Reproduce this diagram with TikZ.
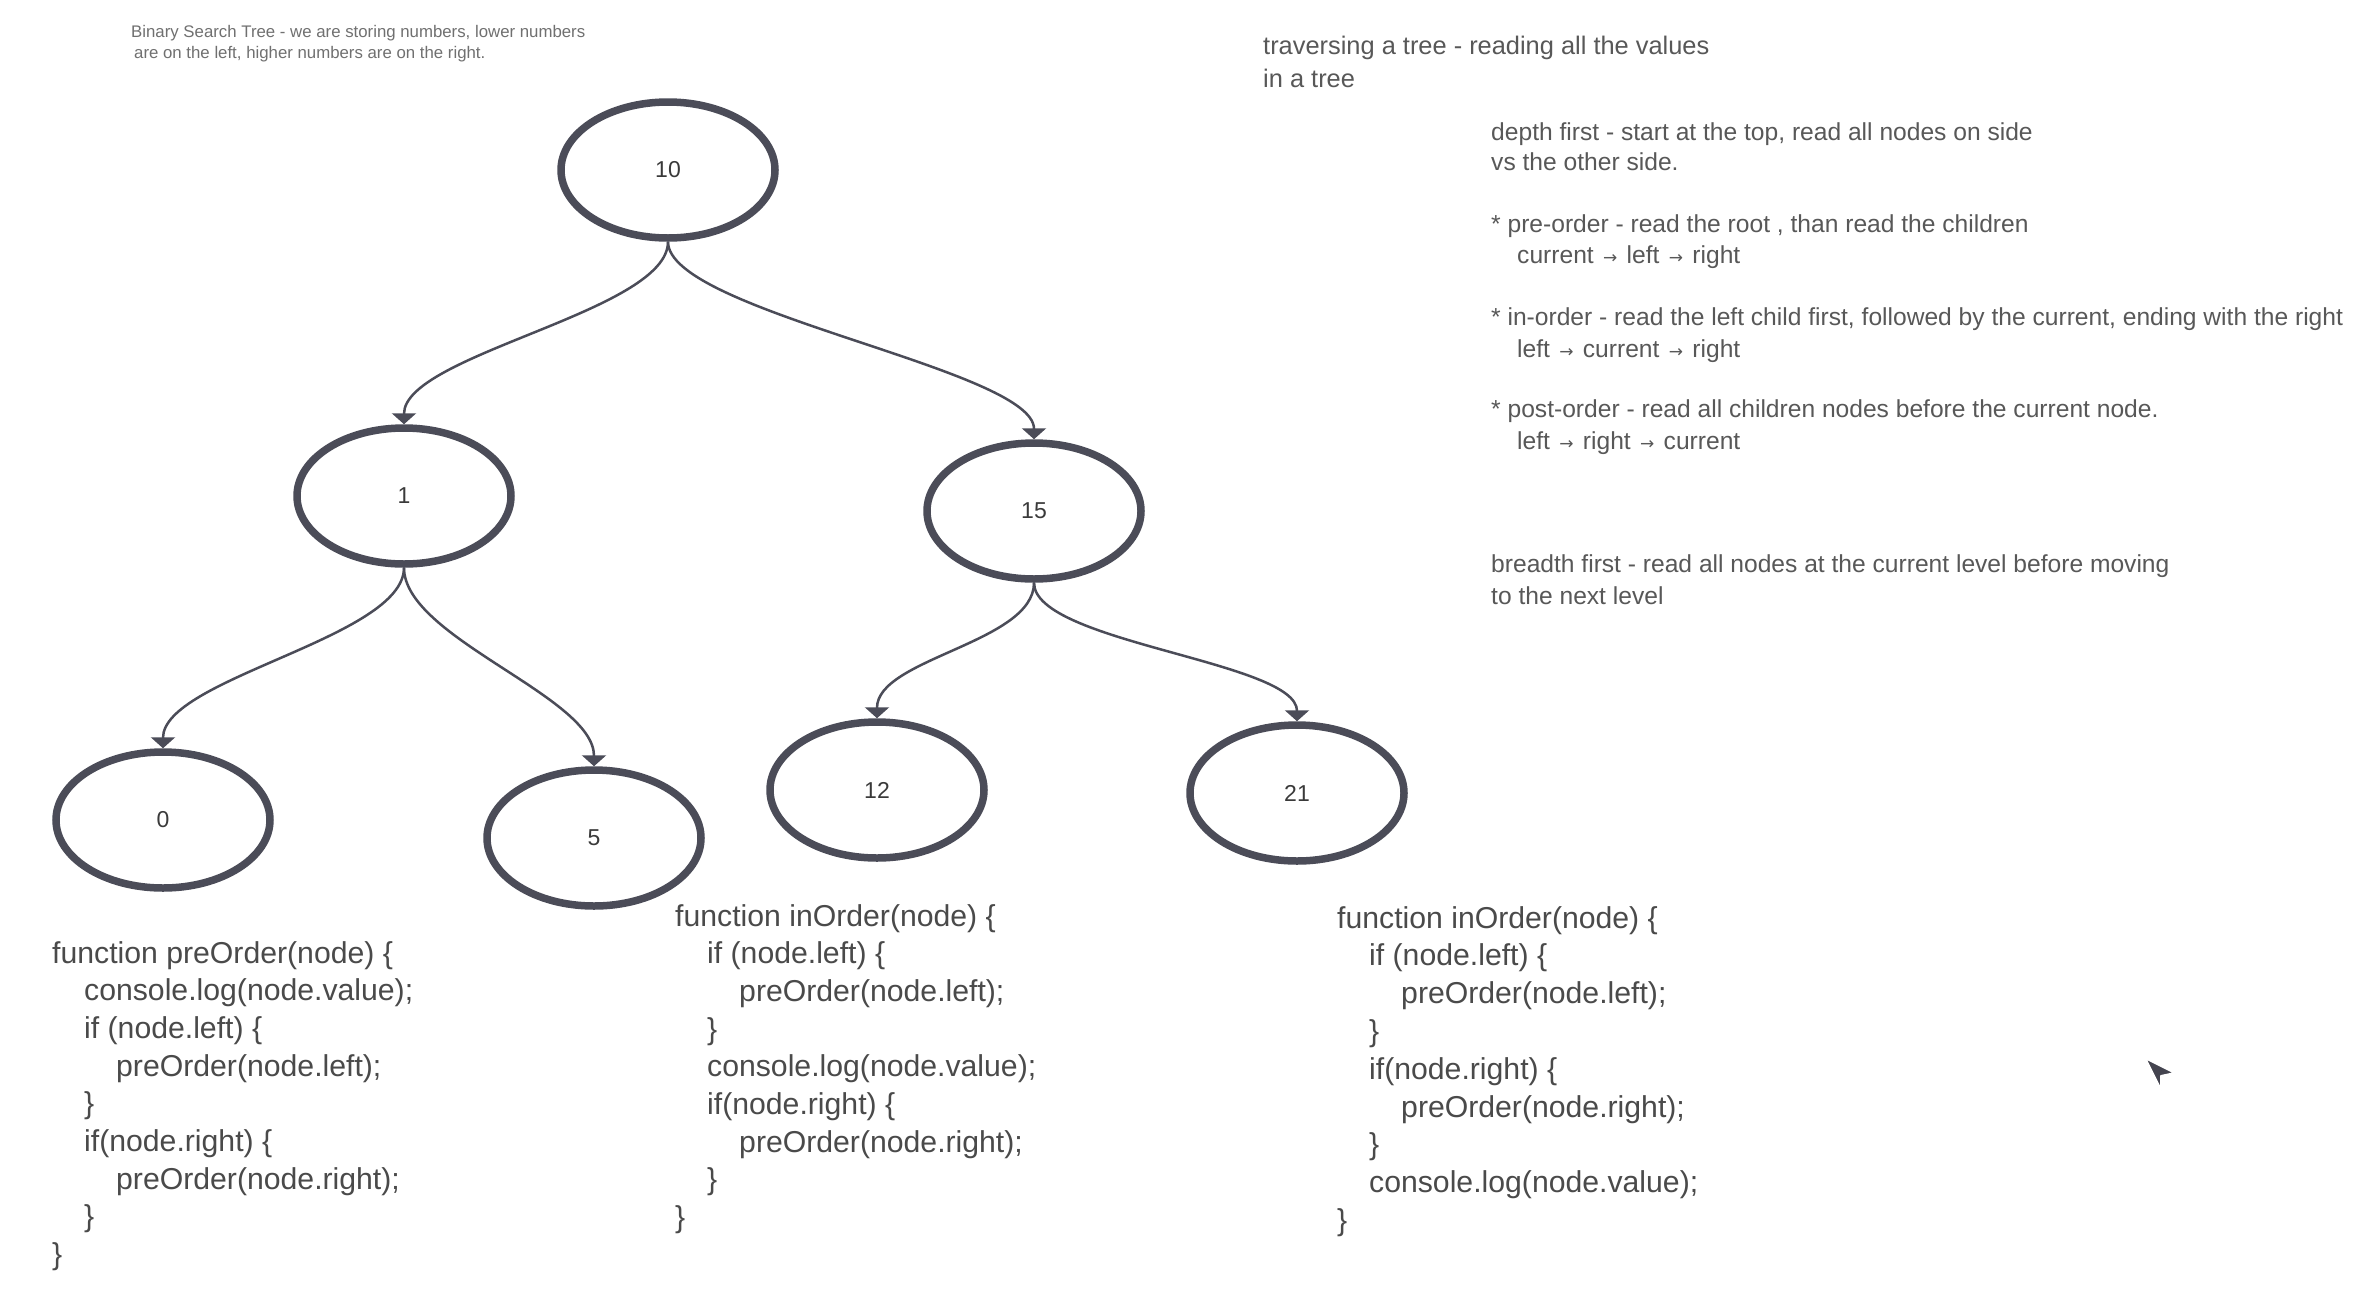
\documentclass[tikz,border=0pt]{standalone}
\usepackage{fontspec}
\setmainfont{Liberation Sans}
\newfontfamily\symfont{DejaVu Sans}
\usetikzlibrary{shapes.geometric,arrows.meta}
\definecolor{strokec}{HTML}{4B4C58}
\definecolor{labelc}{HTML}{3A3A3A}
\definecolor{notec}{HTML}{585858}
\definecolor{smallc}{HTML}{707070}
\definecolor{codec}{HTML}{4A4A4A}
\newcommand\cl[4]{\node[code] (#1) at (#2,#3) {#4};}
\newcommand\myra{\hspace{2.5pt}{\symfont\fontsize{17}{17}\selectfont\raisebox{0.5pt}{→}}\hspace{2.5pt}}
\begin{document}
\begin{tikzpicture}[x=1pt,y=-1pt,
  bst/.style={ellipse, draw=strokec, line width=7.5pt, minimum width=214pt, minimum height=136pt, inner sep=0pt, font=\fontsize{23}{27}\selectfont, text=labelc},
  conn/.style={draw=strokec, line width=2.5pt, -{Triangle[width=24pt,length=11pt]}},
  note/.style={anchor=base west, inner sep=0pt, text=notec, font=\fontsize{24.6}{29}\selectfont},
  head/.style={note, font=\fontsize{25.4}{30}\selectfont},
  small/.style={anchor=base west, inner sep=0pt, text=smallc, font=\fontsize{16.8}{20}\selectfont},
  code/.style={anchor=base west, inner sep=0pt, text=codec, font=\fontsize{30.2}{36}\selectfont}]
\fill[white] (0,0) rectangle (2364,1302);
\useasboundingbox (0,0) rectangle (2364,1302);

% tree
\node[bst] (n10) at (668,170) {10};
\node[bst] (n1) at (404,496) {1};
\node[bst] (n15) at (1034,511) {15};
\node[bst] (n0) at (163,820) {0};
\node[bst] (n5) at (594,838) {5};
\node[bst] (n12) at (877,790) {12};
\node[bst] (n21) at (1297,793) {21};

\draw[conn] (n10.south) .. controls +(0,70) and +(0,-70) .. (n1.north);
\draw[conn] (n10.south) .. controls +(0,70) and +(0,-70) .. (n15.north);
\draw[conn] (n1.south) .. controls +(0,70) and +(0,-70) .. (n0.north);
\draw[conn] (n1.south) .. controls +(0,70) and +(0,-70) .. (n5.north);
\draw[conn] (n15.south) .. controls +(0,60) and +(0,-60) .. (n12.north);
\draw[conn] (n15.south) .. controls +(0,60) and +(0,-60) .. (n21.north);

% small note
\node[small] (s1) at (131,37) {Binary Search Tree - we are storing numbers, lower numbers};
\node[small] (s2) at (134,58) {are on the left, higher numbers are on the right.};

% right notes
\node[head] (t1) at (1263,54.5) {traversing a tree - reading all the values};
\node[head] (t2) at (1263,87.5) {in a tree};
\node[note] (t3) at (1491,140.5) {depth first - start at the top, read all nodes on side};
\node[note] (t4) at (1491,170.5) {vs the other side.};
\node[note] (t5) at (1491,232.5) {* pre-order - read the root , than read the children};
\node[note] (t6) at (1517,263.5) {current \myra{} left \myra{} right};
\node[note] (t7) at (1491,325.5) {* in-order - read the left child first, followed by the current, ending with the right};
\node[note] (t8) at (1517,357.5) {left \myra{} current \myra{} right};
\node[note] (t9) at (1491,417.5) {* post-order - read all children nodes before the current node.};
\node[note] (t10) at (1517,449.5) {left \myra{} right \myra{} current};
\node[note] (t11) at (1491,572.5) {breadth first - read all nodes at the current level before moving};
\node[note] (t12) at (1491,604.5) {to the next level};

% code block 1
\cl{a1}{52}{963}{function preOrder(node) \{}
\cl{a2}{84}{1000.7}{console.log(node.value);}
\cl{a3}{84}{1038.4}{if (node.left) \{}
\cl{a4}{116}{1076.1}{preOrder(node.left);}
\cl{a5}{84}{1113.8}{\}}
\cl{a6}{84}{1151.5}{if(node.right) \{}
\cl{a7}{116}{1189.2}{preOrder(node.right);}
\cl{a8}{84}{1226.9}{\}}
\cl{a9}{52}{1264.6}{\}}

% code block 2
\cl{b1}{675}{926}{function inOrder(node) \{}
\cl{b2}{707}{963.7}{if (node.left) \{}
\cl{b3}{739}{1001.4}{preOrder(node.left);}
\cl{b4}{707}{1039.1}{\}}
\cl{b5}{707}{1076.8}{console.log(node.value);}
\cl{b6}{707}{1114.5}{if(node.right) \{}
\cl{b7}{739}{1152.2}{preOrder(node.right);}
\cl{b8}{707}{1189.9}{\}}
\cl{b9}{675}{1227.6}{\}}

% code block 3
\cl{c1}{1337}{928}{function inOrder(node) \{}
\cl{c2}{1369}{965.8}{if (node.left) \{}
\cl{c3}{1401}{1003.6}{preOrder(node.left);}
\cl{c4}{1369}{1041.4}{\}}
\cl{c5}{1369}{1079.2}{if(node.right) \{}
\cl{c6}{1401}{1117}{preOrder(node.right);}
\cl{c7}{1369}{1154.8}{\}}
\cl{c8}{1369}{1192.6}{console.log(node.value);}
\cl{c9}{1337}{1230.4}{\}}

% mouse cursor
\filldraw[fill=strokec!90!black, draw=white, line width=2pt, line join=round]
  (2145,1058) -- (2175,1073) -- (2161,1076) -- (2161,1090) -- cycle;
\end{tikzpicture}
\end{document}
